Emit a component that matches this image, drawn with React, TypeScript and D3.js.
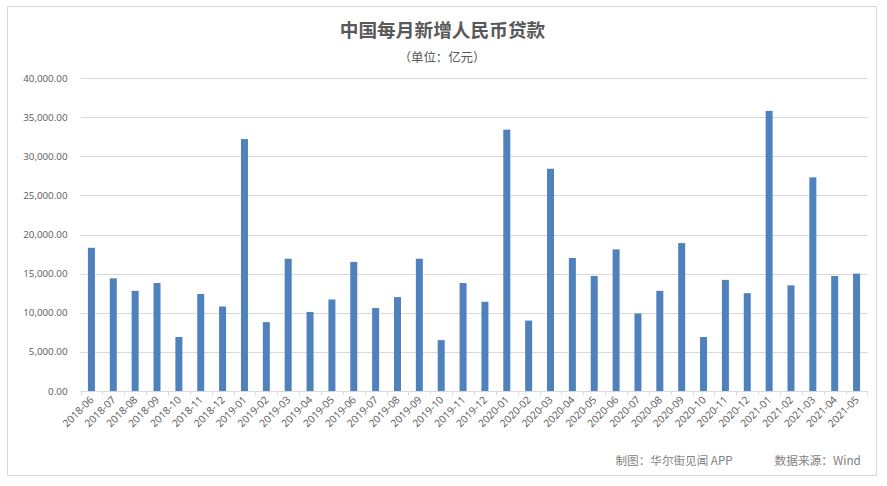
import React from "react";
import * as d3 from "d3";

const months = ["2018-06","2018-07","2018-08","2018-09","2018-10","2018-11","2018-12","2019-01","2019-02","2019-03","2019-04","2019-05","2019-06","2019-07","2019-08","2019-09","2019-10","2019-11","2019-12","2020-01","2020-02","2020-03","2020-04","2020-05","2020-06","2020-07","2020-08","2020-09","2020-10","2020-11","2020-12","2021-01","2021-02","2021-03","2021-04","2021-05"];
const loans = [18300,14400,12800,13800,6900,12400,10800,32200,8800,16900,10100,11700,16500,10600,12000,16900,6500,13800,11400,33400,9000,28400,17000,14700,18100,9900,12800,18900,6900,14200,12500,35800,13500,27300,14700,15000];
const yTicks = [0,5000,10000,15000,20000,25000,30000,35000,40000];

const W = 887, H = 486;
const sans = "'Open Sans', 'Noto Sans CJK SC', sans-serif";
const cjk = "'Noto Sans CJK SC', sans-serif";

export default function App() {
  const x = d3.scaleBand<string>().domain(months).range([80.5, 867.5]).paddingInner(0).paddingOuter(0);
  const y = d3.scaleLinear().domain([0, 40000]).range([391, 78]);
  const fmt = d3.format(",.2f");
  const bw = 7;
  return (
    <svg width={W} height={H} style={{ position: "fixed", left: 0, top: 0, background: "#fff" }}>
      <rect x={7.5} y={6.5} width={869} height={469} fill="#fff" stroke="#d9d9d9" strokeWidth={1} />
      <text x={442.5} y={37} textAnchor="middle" fontFamily={cjk} fontWeight={700} fontSize={18.7} fill="#595959">中国每月新增人民币贷款</text>
      <text x={442} y={61.5} textAnchor="middle" fontFamily={cjk} fontSize={12.4} fill="#595959">（单位：亿元）</text>
      {yTicks.map(t => (
        <g key={t}>
          <line x1={80.5} x2={867.5} y1={Math.round(y(t)) + 0.5} y2={Math.round(y(t)) + 0.5} stroke="#d9d9d9" />
          <text x={67.5} y={y(t) + 3.5} textAnchor="end" fontFamily={sans} fontSize={9.8} fill="#595959">{fmt(t)}</text>
        </g>
      ))}
      {months.map((m) => (
        <line key={m} x1={Math.round(x(m)!) + 0.5} x2={Math.round(x(m)!) + 0.5} y1={391} y2={395} stroke="#d9d9d9" />
      ))}
      <line x1={867.5} x2={867.5} y1={391} y2={395} stroke="#d9d9d9" />
      {months.map((m, i) => (
        <rect key={m} x={x(m)! + x.bandwidth() / 2 - bw / 2} y={y(loans[i])} width={bw} height={y(0) - y(loans[i])} fill="#4f81bd" />
      ))}
      {months.map(m => {
        const cx = x(m)! + x.bandwidth() / 2 + 3;
        return (
          <text key={m} transform={`translate(${cx},400.5) rotate(-45)`} textAnchor="end" fontFamily={sans} fontSize={10.3} fill="#595959">{m}</text>
        );
      })}
      <text x={615.5} y={465} fontFamily={cjk} fontSize={11.6} fill="#7f7f7f">制图：华尔街见闻 APP</text>
      <text x={774.5} y={465} fontFamily={cjk} fontSize={11.7} fill="#7f7f7f">数据来源：Wind</text>
    </svg>
  );
}
